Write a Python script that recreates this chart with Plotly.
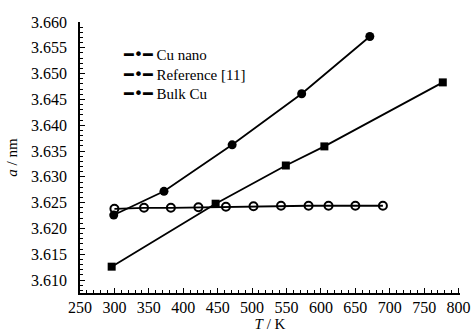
import plotly.graph_objects as go

nano_T = [299, 372, 471, 572, 671]
nano_a = [3.6226, 3.6272, 3.6362, 3.6461, 3.6572]

ref_T = [296, 447, 549, 605, 777]
ref_a = [3.6126, 3.6248, 3.6322, 3.6359, 3.6483]

bulk_T = [300, 343, 382, 422, 462, 502, 542, 582, 611, 650, 690]
bulk_a = [3.6238, 3.6240, 3.6240, 3.6241, 3.6242, 3.6243, 3.6244, 3.6244, 3.6244, 3.6244, 3.6244]

legend_names = ["Cu nano", "Reference [11]", "Bulk Cu"]

FAM = "Liberation Serif"
font = dict(family=FAM, size=16, color="black")
title_font = dict(family=FAM, size=15, color="black")
legend_font = dict(family=FAM, size=15, color="black")
fig = go.Figure()
fig.add_trace(go.Scatter(x=nano_T, y=nano_a, mode="lines+markers", name=legend_names[0],
                         line=dict(color="black", width=1.8),
                         marker=dict(symbol="circle", size=9, color="black")))
fig.add_trace(go.Scatter(x=ref_T, y=ref_a, mode="lines+markers", name=legend_names[1],
                         line=dict(color="black", width=1.8),
                         marker=dict(symbol="square", size=8, color="black")))
fig.add_trace(go.Scatter(x=bulk_T, y=bulk_a, mode="lines+markers", name=legend_names[2],
                         line=dict(color="black", width=1.8),
                         marker=dict(symbol="circle-open", size=8, color="black",
                                     line=dict(width=2))))

# legend typeset as in the original figure
sym = ('<span style="font-family:\'DejaVu Sans\';font-size:16px">'
       '\u2501\u2022\u2501</span> ')
fig.add_annotation(xref="paper", yref="paper", x=0.107, y=0.807, xanchor="left",
                   yanchor="middle", align="left", showarrow=False,
                   text="<br>".join(sym + n for n in legend_names), font=legend_font)

axis_common = dict(showline=True, linecolor="black", linewidth=1.5, ticks="inside",
                   tickcolor="black", ticklen=5, tickwidth=1.2, showgrid=False,
                   zeroline=False, mirror=False, tickfont=font, automargin=False,
                   minor=dict(ticks="inside", ticklen=3, tickcolor="black", tickwidth=1))
fig.update_xaxes(range=[250, 802], dtick=50, tick0=250, ticklabelstandoff=-1,
                 title=dict(text="<i>T</i> / K", font=title_font, standoff=0), **axis_common)
fig.update_yaxes(range=[3.6075, 3.660], dtick=0.005, tick0=3.61, tickformat=".3f",
                 ticklabelstandoff=8,
                 title=dict(text="<i>a</i> / nm", font=title_font, standoff=10), **axis_common)
fig.update_layout(width=475, height=333, margin=dict(l=80, r=15, t=22, b=40),
                  plot_bgcolor="white", paper_bgcolor="white", font=font,
                  showlegend=False)
fig.write_html("out.html", config={"displayModeBar": False},
               post_script="document.body.style.margin='0';document.body.style.overflow='hidden';")
